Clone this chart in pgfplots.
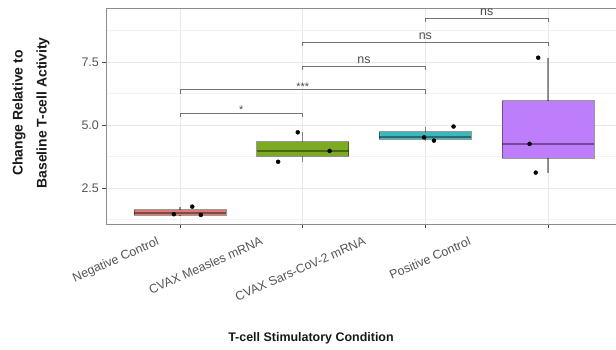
\documentclass[border=0pt]{standalone}
\usepackage{fontspec}
\setmainfont{Liberation Sans}
\usepackage{pgfplots}
\pgfplotsset{compat=1.18}
\usepgfplotslibrary{statistics}
\definecolor{cred}{HTML}{DE7A72}
\definecolor{cgreen}{HTML}{7DAA23}
\definecolor{cteal}{HTML}{3CB8BD}
\definecolor{cpurple}{HTML}{BE7DFA}
\definecolor{tickgrey}{HTML}{555555}
\begin{document}
\begin{tikzpicture}
\useasboundingbox (0,0) rectangle (616bp,350bp);
\begin{axis}[
  at={(106.4bp,126bp)}, anchor=south west,
  scale only axis, width=515.2bp, height=216bp,
  xmin=0.4, xmax=4.6, ymin=1.071, ymax=9.643,
  xtick={1,2,3,4}, xticklabels={},
  ytick={2.5,5,7.5}, yticklabels={2.5,5.0,7.5},
  minor ytick={1.25,3.75,6.25,8.75},
  grid=both,
  major grid style={color=black!9, line width=0.9bp},
  minor grid style={color=black!5, line width=0.6bp},
  tick align=outside, major tick length=4bp, minor tick length=0pt,
  tick style={color=black!70, line width=0.8bp},
  tick pos=left,
  axis line style={color=black!45, line width=0.8bp},
  yticklabel style={font=\fontsize{12.5}{14}\selectfont, text=tickgrey},
  boxplot/draw direction=y,
  boxplot/every median/.style={line width=1.7bp},
  boxplot/every whisker/.style={line width=1.1bp},
  boxplot/every box/.style={line width=0.9bp},
]
% boxes
\addplot[boxplot prepared={draw position=1, lower whisker=1.41, lower quartile=1.42, median=1.50, upper quartile=1.63, upper whisker=1.76, box extend=0.75, whisker extend=0},
  fill=cred, draw=black, draw opacity=0.4] coordinates {};
\addplot[boxplot prepared={draw position=2, lower whisker=3.54, lower quartile=3.755, median=3.97, upper quartile=4.34, upper whisker=4.71, box extend=0.75, whisker extend=0},
  fill=cgreen, draw=black, draw opacity=0.4] coordinates {};
\addplot[boxplot prepared={draw position=3, lower whisker=4.38, lower quartile=4.445, median=4.51, upper quartile=4.725, upper whisker=4.94, box extend=0.75, whisker extend=0},
  fill=cteal, draw=black, draw opacity=0.4] coordinates {};
\addplot[boxplot prepared={draw position=4, lower whisker=3.11, lower quartile=3.68, median=4.25, upper quartile=5.96, upper whisker=7.67, box extend=0.75, whisker extend=0},
  fill=cpurple, draw=black, draw opacity=0.4] coordinates {};
% points
\addplot[only marks, mark=*, mark size=2bp, black] coordinates {
  (0.95,1.46) (1.10,1.76) (1.17,1.43)
  (1.96,4.71) (1.80,3.54) (2.22,3.97)
  (2.99,4.51) (3.07,4.38) (3.23,4.94)
  (3.92,7.67) (3.85,4.25) (3.90,3.11)};
% significance brackets
\addplot[black!55, line width=0.7bp] coordinates {(1,5.32) (1,5.48) (2,5.48) (2,5.32)};
\addplot[black!55, line width=0.7bp] coordinates {(1,6.23) (1,6.43) (3,6.43) (3,6.23)};
\addplot[black!55, line width=0.7bp] coordinates {(2,7.18) (2,7.34) (3,7.34) (3,7.18)};
\addplot[black!55, line width=0.7bp] coordinates {(2,8.13) (2,8.29) (4,8.29) (4,8.13)};
\addplot[black!55, line width=0.7bp] coordinates {(3,9.09) (3,9.25) (4,9.25) (4,9.09)};
\node[anchor=base, inner sep=0pt, yshift=-1bp, font=\fontsize{11}{12}\selectfont, text=black!70] at (axis cs:1.5,5.48) {*};
\node[anchor=base, inner sep=0pt, yshift=-2bp, font=\fontsize{11}{12}\selectfont, text=black!70] at (axis cs:2,6.43) {***};
\node[anchor=base, inner sep=0pt, yshift=2.5bp, font=\fontsize{12.5}{14}\selectfont, text=black!70] at (axis cs:2.5,7.34) {ns};
\node[anchor=base, inner sep=0pt, yshift=2.5bp, font=\fontsize{12.5}{14}\selectfont, text=black!70] at (axis cs:3,8.29) {ns};
\node[anchor=base, inner sep=0pt, yshift=2.5bp, font=\fontsize{12.5}{14}\selectfont, text=black!70] at (axis cs:3.5,9.25) {ns};
\end{axis}
% category labels
\begin{scope}[every node/.style={rotate=24, anchor=north east, inner sep=0pt, font=\fontsize{12.5}{14}\selectfont, text=tickgrey}]
\node at (156bp,114bp) {Negative Control};
\node at (260bp,114bp) {CVAX Measles mRNA};
\node at (363bp,114bp) {CVAX Sars-CoV-2 mRNA};
\node at (468bp,114bp) {Positive Control};
\end{scope}
% axis titles
\node[font=\bfseries\fontsize{12.5}{14}\selectfont, text=black!90] at (311bp,12bp) {T-cell Stimulatory Condition};
\node[rotate=90, align=center, font=\bfseries\fontsize{14}{24}\selectfont, text=black!90] at (31bp,237bp) {Change Relative to\\Baseline T-cell Activity};
\end{tikzpicture}
\end{document}
